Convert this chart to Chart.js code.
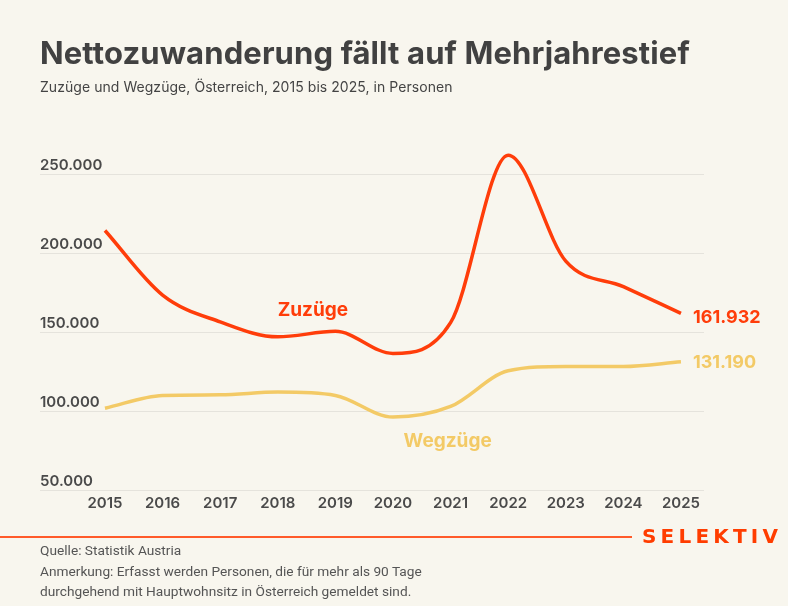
<!DOCTYPE html>
<html lang="de">
<head>
<meta charset="utf-8">
<script src="https://cdn.jsdelivr.net/npm/chart.js@4"></script>
<style>
  html, body { margin: 0; padding: 0; background: #f8f6ee; }
  #wrap { position: relative; width: 788px; height: 606px; overflow: hidden; background: #f8f6ee; }
  #chart { position: absolute; left: 0; top: 0; }
  .txt { position: absolute; white-space: nowrap; }
  #title { left: 40px; top: 37px; font: 700 31px/31px Inter, sans-serif; color: #414141; letter-spacing: 0.12px; }
  #sub { left: 40px; top: 80px; font: 400 14px/14px Inter, sans-serif; color: #444; letter-spacing: 0.05px; }
  #rule { position: absolute; left: 0; top: 536px; width: 632px; height: 1.5px; background: #ff5a2a; }
  #logo { left: 642px; top: 526px; font: 600 20px/20px "DejaVu Sans", sans-serif; color: #ff3d00; letter-spacing: 4.2px; }
  #notes { left: 40px; top: 540px; font: 400 13.7px/20.5px Roboto, sans-serif; color: #555; }
</style>
</head>
<body>
<div id="wrap">
  <canvas id="chart" width="788" height="606"></canvas>
  <div class="txt" id="title">Nettozuwanderung fällt auf Mehrjahrestief</div>
  <div class="txt" id="sub">Zuzüge und Wegzüge, Österreich, 2015 bis 2025, in Personen</div>
  <div id="rule"></div>
  <div class="txt" id="logo">SELEKTIV</div>
  <div class="txt" id="notes">Quelle: Statistik Austria<br>Anmerkung: Erfasst werden Personen, die für mehr als 90 Tage<br>durchgehend mit Hauptwohnsitz in Österreich gemeldet sind.</div>
</div>
<script>
    // Daten
    const jahre = [2015, 2016, 2017, 2018, 2019, 2020, 2021, 2022, 2023, 2024, 2025];
    const zuzuege = [214400, 173500, 156500, 147000, 150500, 136500, 156000, 262100, 195000, 178800, 161932];
    const wegzuege = [101800, 109900, 110300, 112000, 109900, 96200, 102900, 125500, 128200, 128200, 131190];
    const yTicks = [50000, 100000, 150000, 200000, 250000];

    const ROT = '#ff3d0a';
    const GELB = '#f3ca66';

    function fmt(v) {
        return v.toString().replace(/\B(?=(\d{3})+(?!\d))/g, '.');
    }

    // Beschriftungen direkt an den Linien
    const labelPlugin = {
        id: 'labels',
        afterDatasetsDraw(chart) {
            const ctx = chart.ctx;
            const x = chart.scales.x;
            const y = chart.scales.y;
            ctx.save();
            ctx.font = '700 19px Inter, sans-serif';
            ctx.textAlign = 'center';
            ctx.textBaseline = 'middle';
            ctx.fillStyle = ROT;
            ctx.fillText('Zuzüge', x.getPixelForValue(2018.61), y.getPixelForValue(164000));
            ctx.fillStyle = GELB;
            ctx.fillText('Wegzüge', x.getPixelForValue(2020.95), y.getPixelForValue(80600));

            // Endwerte
            ctx.font = '700 18px Inter, sans-serif';
            ctx.textAlign = 'left';
            const last = jahre.length - 1;
            const px = x.getPixelForValue(jahre[last]) + 12;
            ctx.fillStyle = ROT;
            ctx.fillText(fmt(zuzuege[last]), px, y.getPixelForValue(zuzuege[last]) + 4);
            ctx.fillStyle = GELB;
            ctx.fillText(fmt(wegzuege[last]), px, y.getPixelForValue(wegzuege[last]) + 1);
            ctx.restore();
        }
    };

    const ctx = document.getElementById('chart').getContext('2d');
    const chart = new Chart(ctx, {
        type: 'line',
        data: {
            datasets: [{
                label: 'Zuzüge',
                data: jahre.map((j, i) => ({x: j, y: zuzuege[i]})),
                borderColor: ROT,
                borderWidth: 3.5,
                pointRadius: 0,
                cubicInterpolationMode: 'monotone',
                fill: false
            }, {
                label: 'Wegzüge',
                data: jahre.map((j, i) => ({x: j, y: wegzuege[i]})),
                borderColor: GELB,
                borderWidth: 3.5,
                pointRadius: 0,
                cubicInterpolationMode: 'monotone',
                fill: false
            }]
        },
        options: {
            responsive: false,
            animation: false,
            layout: {
                padding: {left: 40, right: 84, top: 142.7, bottom: 0}
            },
            plugins: {
                legend: {display: false},
                tooltip: {enabled: false}
            },
            scales: {
                x: {
                    type: 'linear',
                    min: 2013.872,
                    max: 2025.4,
                    grid: {display: false, drawTicks: false},
                    border: {display: false},
                    afterBuildTicks: (s) => { s.ticks = jahre.map(v => ({value: v})); },
                    afterFit: (s) => { s.height = 116; },
                    ticks: {
                        padding: 4,
                        color: '#4a4a4a',
                        font: {family: 'Inter', size: 15, weight: '600'},
                        callback: (v) => String(v)
                    }
                },
                y: {
                    min: 50000,
                    max: 270000,
                    grid: {color: '#e5e3dc', lineWidth: 1, drawTicks: false},
                    border: {display: false},
                    afterBuildTicks: (s) => { s.ticks = yTicks.map(v => ({value: v})); },
                    afterFit: (s) => { s.width = 0; },
                    ticks: {
                        mirror: true,
                        padding: 0,
                        labelOffset: -9,
                        color: '#4a4a4a',
                        font: {family: 'Inter', size: 15, weight: '600'},
                        callback: (v) => fmt(v)
                    }
                }
            }
        },
        plugins: [labelPlugin]
    });
</script>
</body>
</html>
